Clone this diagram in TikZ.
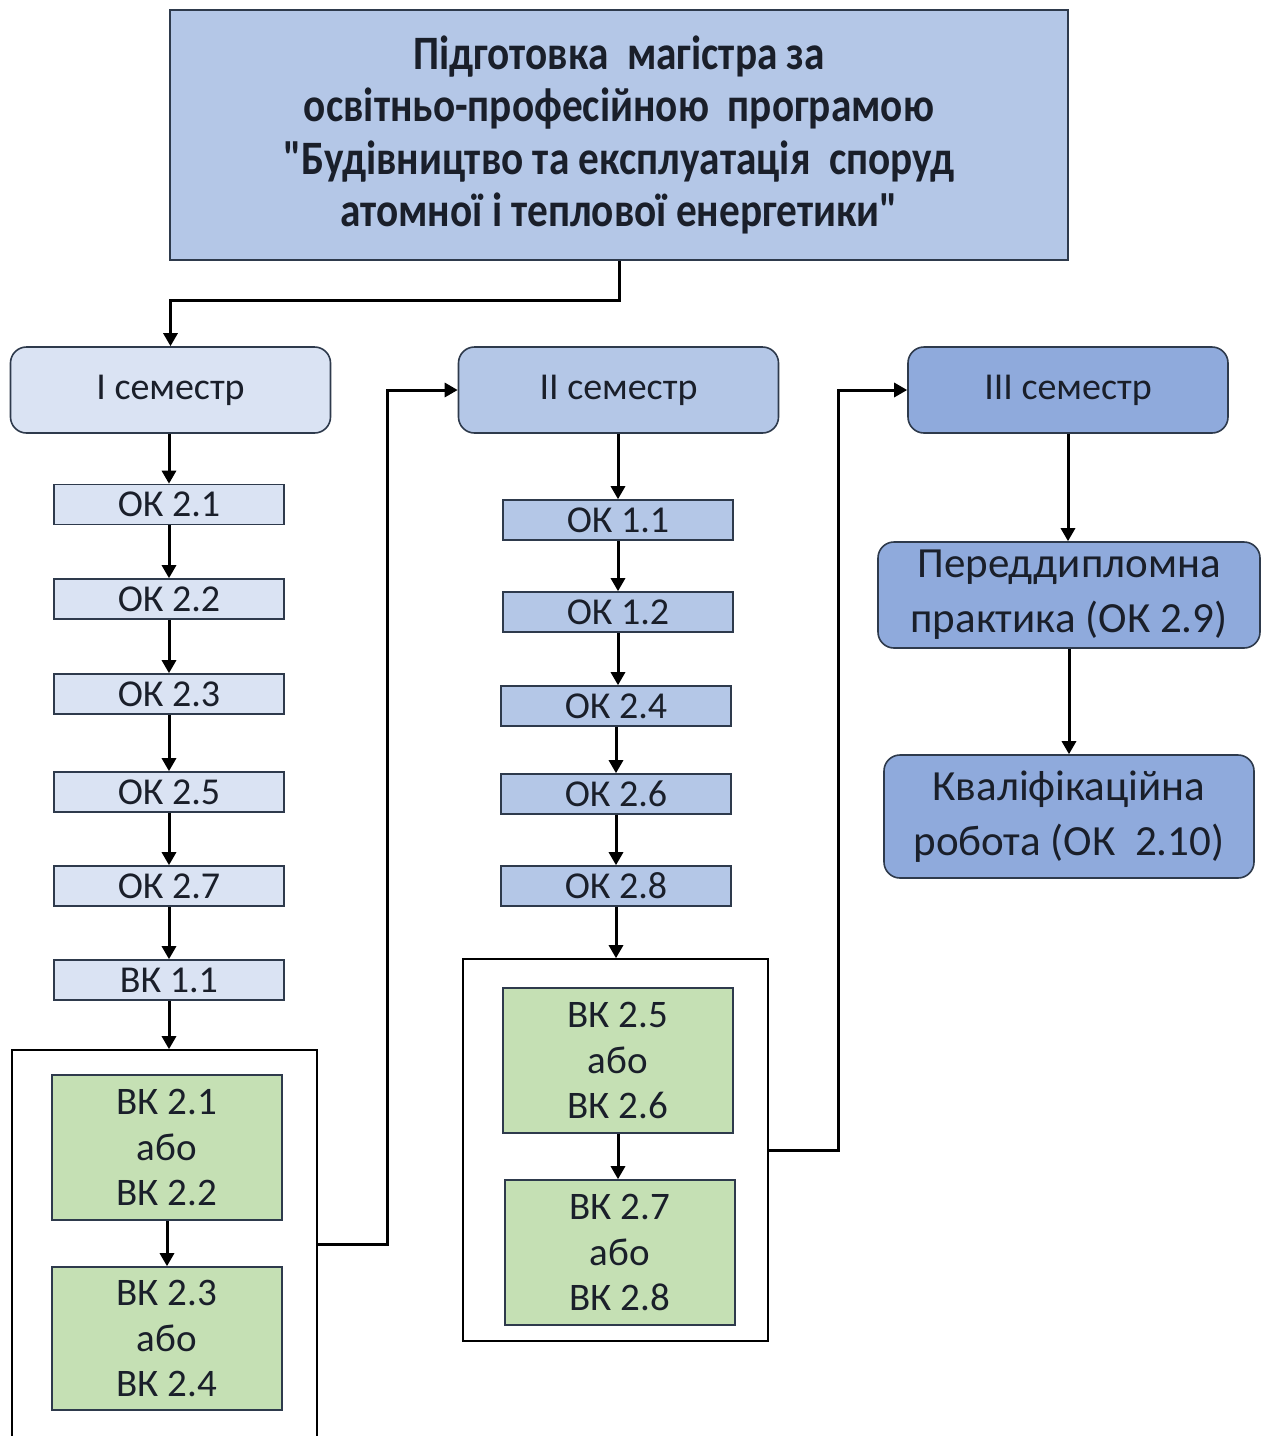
\documentclass[tikz,border=0pt]{standalone}
\usepackage{fontspec}
\setmainfont{Carlito}
\newfontfamily\titlefont[FakeStretch=0.86]{Carlito}
\usetikzlibrary{arrows.meta}
\definecolor{titlefill}{HTML}{B4C7E7}
\definecolor{sonefill}{HTML}{DAE3F3}
\definecolor{sthreefill}{HTML}{8FAADC}
\definecolor{greenfill}{HTML}{C5E0B4}
\definecolor{edgecol}{HTML}{2E3A4C}
\definecolor{txtcol}{HTML}{1A1F2A}
\tikzset{
  base/.style={draw=edgecol, line width=1.6pt, text=txtcol, align=center, inner sep=0pt},
  titlebox/.style={base, fill=titlefill, minimum width=898pt, minimum height=250pt,
    font=\titlefont\bfseries\fontsize{48}{52.5}\selectfont},
  sembox/.style={base, rounded corners=16pt, minimum width=320pt, minimum height=86pt,
    font=\fontsize{38}{40}\selectfont},
  okbox/.style={base, minimum width=230pt, minimum height=40pt,
    font=\fontsize{38}{40}\selectfont},
  greenbox/.style={base, fill=greenfill, minimum width=230pt, minimum height=145pt,
    font=\fontsize{39}{45.5}\selectfont},
  groupbox/.style={draw=black, line width=1.6pt, fill=white, minimum width=305pt, inner sep=0pt},
  bigbox/.style={base, fill=sthreefill, rounded corners=16pt,
    font=\fontsize{43}{55}\selectfont},
  conn/.style={draw=black, line width=3pt, -{Triangle[length=13pt,width=14pt]}}
}
\begin{document}
\begin{tikzpicture}[x=1pt,y=-1pt]
\clip (0,0) rectangle (1266,1436);
\fill[white] (0,0) rectangle (1266,1436);

% title
\node[titlebox] (title) at (619,135) {Підготовка\ \ магістра за\\освітньо-професійною\ \ програмою\\"Будівництво та експлуатація\ \ споруд\\атомної і теплової енергетики"};

% semesters
\node[sembox, fill=sonefill] (s1) at (170.5,390) {І семестр};
\node[sembox, fill=titlefill] (s2) at (618.5,390) {ІІ семестр};
\node[sembox, fill=sthreefill] (s3) at (1068,390) {ІІІ семестр};

% column 1
\node[okbox, fill=sonefill] (a1) at (169,504.5) {ОК 2.1};
\node[okbox, fill=sonefill] (a2) at (169,599) {ОК 2.2};
\node[okbox, fill=sonefill] (a3) at (169,694) {ОК 2.3};
\node[okbox, fill=sonefill] (a4) at (169,792) {ОК 2.5};
\node[okbox, fill=sonefill] (a5) at (169,886) {ОК 2.7};
\node[okbox, fill=sonefill] (a6) at (169,980) {ВК 1.1};
\node[groupbox, minimum height=388pt] (g1) at (164.5,1244) {};
\node[greenbox] (v1) at (167,1147.5) {ВК 2.1\\або\\ВК 2.2};
\node[greenbox, minimum height=143pt] (v2) at (167,1338.5) {ВК 2.3\\або\\ВК 2.4};

% column 2
\node[okbox, fill=titlefill] (b1) at (618,520) {ОК 1.1};
\node[okbox, fill=titlefill] (b2) at (618,612) {ОК 1.2};
\node[okbox, fill=titlefill] (b3) at (616,706) {ОК 2.4};
\node[okbox, fill=titlefill] (b4) at (616,794) {ОК 2.6};
\node[okbox, fill=titlefill] (b5) at (616,886) {ОК 2.8};
\node[groupbox, minimum height=382pt] (g2) at (615.5,1150) {};
\node[greenbox] (v3) at (618,1060.5) {ВК 2.5\\або\\ВК 2.6};
\node[greenbox] (v4) at (620,1252.5) {ВК 2.7\\або\\ВК 2.8};

% column 3
\node[bigbox, minimum width=382pt, minimum height=106pt] (p1) at (1069,595) {Переддипломна\\практика (ОК 2.9)};
\node[bigbox, minimum width=370pt, minimum height=123pt] (p2) at (1069,816.5) {Кваліфікаційна\\робота (ОК\ \ 2.10)};

% connectors
\draw[conn] (title.south) -- ++(0,40) -| (s1.north);
\draw[conn] (s1.south -| a1.north) -- (a1.north);
\draw[conn] (a1) -- (a2);
\draw[conn] (a2) -- (a3);
\draw[conn] (a3) -- (a4);
\draw[conn] (a4) -- (a5);
\draw[conn] (a5) -- (a6);
\draw[conn] (a6.south) -- (a6.south |- g1.north);
\draw[conn] (v1) -- (v2);
\draw[conn] (g1.east) -- ++(70,0) |- (s2.west);

\draw[conn] (s2.south -| b1.north) -- (b1.north);
\draw[conn] (b1) -- (b2);
\draw[conn] (b2.south) -- (b2.south |- b3.north);
\draw[conn] (b3) -- (b4);
\draw[conn] (b4) -- (b5);
\draw[conn] (b5.south) -- (b5.south |- g2.north);
\draw[conn] (v3.south) -- (v3.south |- v4.north);
\draw[conn] (g2.east) -- ++(70,0) |- (s3.west);

\draw[conn] (s3.south) -- (s3.south |- p1.north);
\draw[conn] (p1.south) -- (p1.south |- p2.north);
\end{tikzpicture}
\end{document}
